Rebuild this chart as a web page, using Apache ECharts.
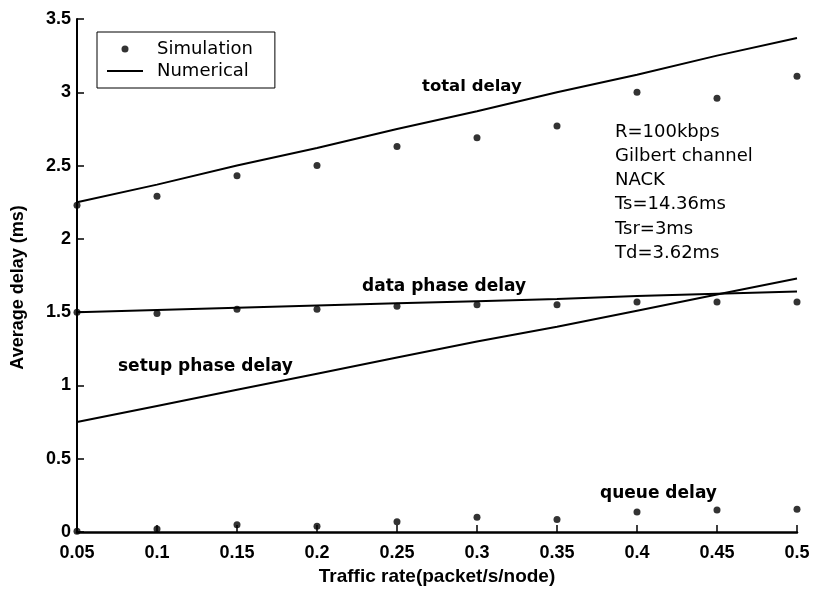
<!DOCTYPE html>
<html>
<head>
<meta charset="utf-8">
<script src="https://cdn.jsdelivr.net/npm/echarts@6/dist/echarts.min.js"></script>
<style>
html,body{margin:0;padding:0;background:#fff;}
#chart{width:813px;height:591px;}
</style>
</head>
<body>
<div id="chart"></div>
<script>
// ---- data ----
const trafficRate = [0.05, 0.1, 0.15, 0.2, 0.25, 0.3, 0.35, 0.4, 0.45, 0.5];
const simTotal   = [2.23, 2.29, 2.43, 2.50, 2.63, 2.69, 2.77, 3.00, 2.96, 3.11];
const simData    = [1.50, 1.49, 1.52, 1.52, 1.54, 1.55, 1.55, 1.57, 1.57, 1.57];
const simQueue   = [0.005, 0.02, 0.05, 0.04, 0.07, 0.10, 0.085, 0.136, 0.15, 0.155];
const numTotal   = [2.25, 2.37, 2.50, 2.62, 2.75, 2.87, 3.00, 3.12, 3.25, 3.37];
const numData    = [1.50, 1.515, 1.53, 1.545, 1.56, 1.575, 1.59, 1.61, 1.625, 1.64];
const numSetup   = [0.75, 0.86, 0.97, 1.08, 1.19, 1.30, 1.40, 1.51, 1.62, 1.73];
const paramText  = ['R=100kbps', 'Gilbert channel', 'NACK', 'Ts=14.36ms', 'Tsr=3ms', 'Td=3.62ms'];

function pairs(ys){ return trafficRate.map((x,i)=>[x, ys[i]]); }

const TICKFONT = 'Liberation Sans';
const ANNFONT = 'DejaVu Sans';

function simSeries(ys){
  return {name:'Simulation', type:'scatter', data:pairs(ys), symbol:'circle', symbolSize:7,
    itemStyle:{color:'#000'}, z:5};
}
function numSeries(ys){
  return {name:'Numerical', type:'line', data:pairs(ys), showSymbol:false, symbol:'none',
    lineStyle:{color:'#000', width:2}, itemStyle:{color:'#000'}, z:4};
}

const chart = echarts.init(document.getElementById('chart'), null, {renderer:'canvas'});
chart.setOption({
  animation:false,
  backgroundColor:'#fff',
  grid:{left:77, right:16, top:19, bottom:56, containLabel:false},
  legend:{
    orient:'vertical', left:97, top:32,
    padding:[8, 22, 8, 10], itemGap:4,
    borderColor:'#000', borderWidth:1, backgroundColor:'#fff',
    itemWidth:36, itemHeight:7, symbolKeepAspect:true,
    textStyle:{fontFamily:ANNFONT, fontSize:18, color:'#000', padding:[0,0,0,9]},
    data:[
      {name:'Simulation', icon:'circle'},
      {name:'Numerical', icon:'path://M0,0 L36,0 L36,1.8 L0,1.8 Z'}
    ]
  },
  xAxis:{
    type:'value', min:0.05, max:0.5, interval:0.05,
    name:'Traffic rate(packet/s/node)', nameLocation:'middle', nameGap:35,
    nameTextStyle:{fontFamily:TICKFONT, fontSize:19, fontWeight:'bold', color:'#000'},
    axisLine:{show:true, lineStyle:{color:'#000', width:2.5}},
    axisTick:{show:true, inside:true, length:7, lineStyle:{color:'#000', width:1.5}},
    axisLabel:{fontFamily:TICKFONT, fontSize:18, fontWeight:'bold', color:'#000', margin:12,
      formatter:v=>String(+v.toFixed(2))},
    splitLine:{show:false}
  },
  yAxis:{
    type:'value', min:0, max:3.5, interval:0.5,
    name:'Average delay (ms)', nameLocation:'middle', nameGap:50, nameRotate:90,
    nameTextStyle:{fontFamily:TICKFONT, fontSize:18, fontWeight:'bold', color:'#000', padding:[0,24,0,0]},
    axisLine:{show:true, lineStyle:{color:'#000', width:2}},
    axisTick:{show:true, inside:true, length:7, lineStyle:{color:'#000', width:1.5}},
    axisLabel:{fontFamily:TICKFONT, fontSize:18, fontWeight:'bold', color:'#000', margin:6,
      formatter:v=>String(+v.toFixed(2))},
    splitLine:{show:false}
  },
  series:[
    numSeries(numTotal), numSeries(numData), numSeries(numSetup),
    simSeries(simTotal), simSeries(simData), simSeries(simQueue)
  ],
  graphic:[
    {type:'text', left:422, top:78, style:{text:'total delay', font:'bold 16.5px "DejaVu Sans"', fill:'#000'}},
    {type:'text', left:362, top:278, style:{text:'data phase delay', font:'bold 17px "DejaVu Sans"', fill:'#000'}},
    {type:'text', left:118, top:358, style:{text:'setup phase delay', font:'bold 17px "DejaVu Sans"', fill:'#000'}},
    {type:'text', left:600, top:485, style:{text:'queue delay', font:'bold 17px "DejaVu Sans"', fill:'#000'}},
    {type:'text', left:615, top:120, style:{text:paramText.join('\n'), font:'18px "DejaVu Sans"', lineHeight:24.2, fill:'#000'}}
  ]
});
</script>
</body>
</html>
